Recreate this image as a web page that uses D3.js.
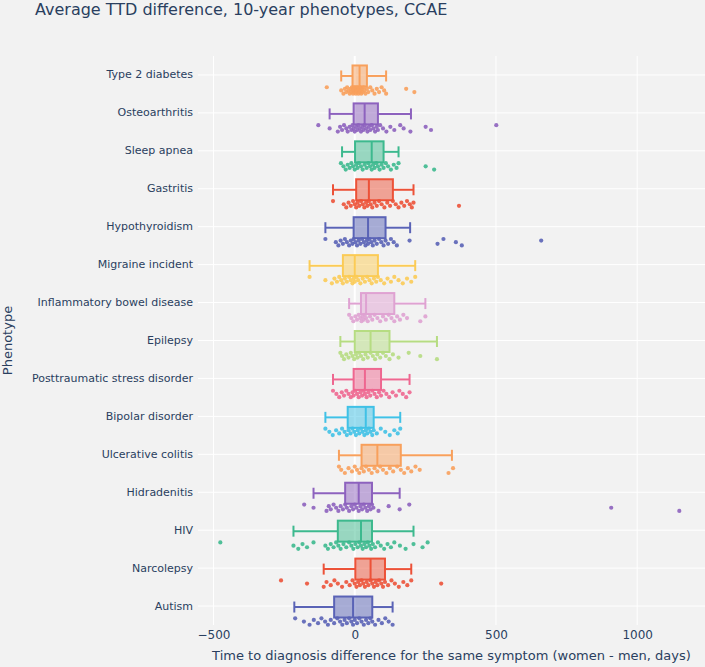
<!DOCTYPE html>
<html><head><meta charset="utf-8">
<script src="https://cdn.jsdelivr.net/npm/d3@7"></script>
<style>body{margin:0;background:#f2f2f2;}svg{display:block;}</style>
</head><body>
<svg id="chart" width="705" height="667"></svg>
<script>
const categories = ["Type 2 diabetes","Osteoarthritis","Sleep apnea","Gastritis","Hypothyroidism","Migraine incident","Inflammatory bowel disease","Epilepsy","Posttraumatic stress disorder","Bipolar disorder","Ulcerative colitis","Hidradenitis","HIV","Narcolepsy","Autism"];
const colors = ["#F8A05C","#8D62BE","#3DB98E","#EC5238","#5A63B6","#FBCB56","#DFA2D2","#B6DC82","#EE6790","#40C1E6","#F8A05C","#8D62BE","#3DB98E","#EC5238","#5A63B6"];
// box statistics
const lowerFence = [-48,-89,-45,-77,-104,-160,-20,-51,-77,-104,-56,-146,-217,-110,-214];
const q1 =         [-8,-4,1,5,-4,-42,22,0,-4,-25,24,-34,-60,2,-73];
const median =     [17,35,60,50,47,0,40,56,36,39,80,14,22,56,-6];
const q3 =         [43,82,102,135,109,82,140,123,93,67,163,61,61,107,62];
const upperFence = [111,199,155,208,196,214,250,291,194,161,344,159,208,200,134];
// individual points
const ptsType2Diabetes = [-99,-48,-40,-35,-30,-27,-22,-18,-15,-12,-10,-8,-6,-4,-2,0,2,4,5,7,9,11,13,15,17,19,21,23,25,28,31,34,38,43,48,55,62,70,78,86,95,104,111,182,211];
const ptsOsteoarthritis = [-129,-89,-60,-52,-45,-38,-30,-25,-18,-12,-8,-4,0,5,9,13,18,22,27,31,35,40,45,50,55,60,66,72,78,82,90,100,112,126,140,161,173,197,251,270,501];
const ptsSleepApnea = [-49,-40,-32,-25,-18,-12,-6,0,5,10,15,22,28,35,42,48,54,60,65,70,76,82,88,95,102,110,118,128,138,148,155,251,281];
const ptsGastritis = [-77,-39,-30,-22,-14,-6,0,5,10,16,22,28,34,40,45,50,56,62,70,78,86,95,105,115,125,135,145,155,165,175,185,195,202,208,369];
const ptsHypothyroidism = [-104,-67,-58,-50,-42,-35,-28,-20,-14,-8,-4,2,8,14,20,26,32,38,43,47,52,58,64,70,78,86,94,102,109,118,128,138,149,194,293,314,358,379,660];
const ptsMigraine = [-160,-104,-81,-72,-63,-55,-48,-42,-35,-28,-20,-14,-8,-3,0,6,12,20,28,36,44,52,60,68,76,82,92,104,116,128,140,155,170,185,200,214];
const ptsIBD = [-20,-12,-5,2,8,14,20,24,28,32,36,40,46,54,62,70,80,90,100,110,120,130,140,150,160,172,185,232,250];
const ptsEpilepsy = [-51,-45,-38,-30,-22,-14,-8,-2,4,10,16,22,30,38,46,56,64,72,80,90,100,110,123,135,155,191,232,291];
const ptsPTSD = [-77,-65,-55,-46,-38,-30,-22,-14,-8,-4,2,8,14,20,26,32,36,42,48,55,62,70,78,86,93,102,112,122,134,146,158,170,182,194];
const ptsBipolar = [-104,-90,-78,-66,-55,-45,-36,-28,-22,-15,-8,-2,4,10,16,22,28,34,39,44,50,56,62,67,78,92,108,124,140,152,161];
const ptsUC = [-56,-48,-35,-22,-10,0,8,16,24,32,40,50,60,70,80,90,100,112,124,136,150,163,175,188,200,215,230,332,348];
const ptsHidradenitis = [-179,-146,-100,-92,-85,-75,-66,-58,-50,-42,-34,-28,-20,-12,-6,0,6,14,20,26,32,38,44,50,56,61,66,84,120,159,193,908,1149];
const ptsHIV = [-476,-217,-200,-185,-169,-146,-104,-95,-85,-75,-66,-58,-50,-40,-30,-20,-12,-5,2,10,16,22,28,34,40,46,52,58,64,72,82,92,104,116,128,140,160,180,208,240,258];
const ptsNarcolepsy = [-261,-169,-110,-100,-85,-72,-60,-45,-30,-18,-8,0,6,12,18,24,30,36,42,48,56,62,68,74,80,86,94,100,107,118,130,142,156,172,186,200,306];
const ptsAutism = [-211,-180,-160,-145,-130,-118,-105,-95,-85,-73,-62,-52,-44,-36,-28,-20,-12,-6,0,8,16,24,32,40,48,55,62,72,84,96,108,120,134];
const points = [ptsType2Diabetes,ptsOsteoarthritis,ptsSleepApnea,ptsGastritis,ptsHypothyroidism,ptsMigraine,ptsIBD,ptsEpilepsy,ptsPTSD,ptsBipolar,ptsUC,ptsHidradenitis,ptsHIV,ptsNarcolepsy,ptsAutism];
const xTicks = [-500,0,500,1000];
const title = "Average TTD difference, 10-year phenotypes, CCAE";
const xTitle = "Time to diagnosis difference for the same symptom (women - men, days)";
const yTitle = "Phenotype";

const svg = d3.select("#chart");
const W = 705, H = 667;
const m = {left:198, right:705, top:56, bottom:625};
const font = "'DejaVu Sans', Verdana, sans-serif";
const textColor = "#2a3f5f";

svg.append("rect").attr("width",W).attr("height",H).attr("fill","#f2f2f2");

const x = d3.scaleLinear().domain([-555,1240]).range([m.left,m.right]);
const y = d3.scaleBand().domain(categories).range([m.top,m.bottom]);

// grid
const g = svg.append("g");
g.selectAll("line.vg").data(xTicks).join("line")
  .attr("x1",d=>x(d)).attr("x2",d=>x(d)).attr("y1",m.top).attr("y2",m.bottom)
  .attr("stroke","#fff").attr("stroke-width",d=>d===0?2:1);
g.selectAll("line.hg").data(categories).join("line")
  .attr("x1",m.left).attr("x2",m.right)
  .attr("y1",d=>y(d)+y.bandwidth()/2).attr("y2",d=>y(d)+y.bandwidth()/2)
  .attr("stroke","#fff").attr("stroke-width",1);

// axes
const xAxis = d3.axisBottom(x).tickValues(xTicks).tickSize(0).tickPadding(0).tickFormat(d=>d<0?"\u2212"+Math.abs(d):d);
const xa = svg.append("g").attr("transform",`translate(0,${m.bottom})`).call(xAxis);
xa.select(".domain").remove();
xa.selectAll("text").attr("dy","0").attr("y",14).attr("font-family",font).attr("font-size",12).attr("fill",textColor);

const yAxis = d3.axisLeft(y).tickSize(0).tickPadding(5);
const ya = svg.append("g").attr("transform",`translate(${m.left},0)`).call(yAxis);
ya.select(".domain").remove();
ya.selectAll("text").attr("font-family",font).attr("font-size",11).attr("fill",textColor);

// boxes
const bh = 10.5, cap = 5.5;
categories.forEach((c,i)=>{
  const col = colors[i];
  const yc = y(c)+y.bandwidth()/2 + 1;
  const bg = svg.append("g");
  bg.append("line").attr("x1",x(lowerFence[i])).attr("x2",x(q1[i])).attr("y1",yc).attr("y2",yc).attr("stroke",col).attr("stroke-width",2);
  bg.append("line").attr("x1",x(q3[i])).attr("x2",x(upperFence[i])).attr("y1",yc).attr("y2",yc).attr("stroke",col).attr("stroke-width",2);
  [lowerFence[i],upperFence[i]].forEach(v=>{
    bg.append("line").attr("x1",x(v)).attr("x2",x(v)).attr("y1",yc-cap).attr("y2",yc+cap).attr("stroke",col).attr("stroke-width",2);
  });
  bg.append("rect").attr("x",x(q1[i])).attr("y",yc-bh).attr("width",x(q3[i])-x(q1[i])).attr("height",2*bh)
    .attr("fill",col).attr("fill-opacity",0.5).attr("stroke",col).attr("stroke-width",2);
  bg.append("line").attr("x1",x(median[i])).attr("x2",x(median[i])).attr("y1",yc-bh).attr("y2",yc+bh).attr("stroke",col).attr("stroke-width",2);
  const py = y(c)+y.bandwidth()/2 + 15.5;
  bg.selectAll("circle").data(points[i]).join("circle")
    .attr("cx",d=>x(d)).attr("cy",(d,j)=>py + (((j*7)%5)-2)*1.6)
    .attr("r",2.1).attr("fill",col).attr("fill-opacity",0.9);
});

// titles
svg.append("text").attr("x",35).attr("y",15).attr("font-family",font).attr("font-size",16).attr("fill",textColor).text(title);
svg.append("text").attr("x",(m.left+m.right)/2).attr("y",660).attr("text-anchor","middle").attr("font-family",font).attr("font-size",13).attr("fill",textColor).text(xTitle);
svg.append("text").attr("transform",`translate(12,${(m.top+m.bottom)/2}) rotate(-90)`).attr("text-anchor","middle").attr("font-family",font).attr("font-size",13).attr("fill",textColor).text(yTitle);
</script>
</body></html>
